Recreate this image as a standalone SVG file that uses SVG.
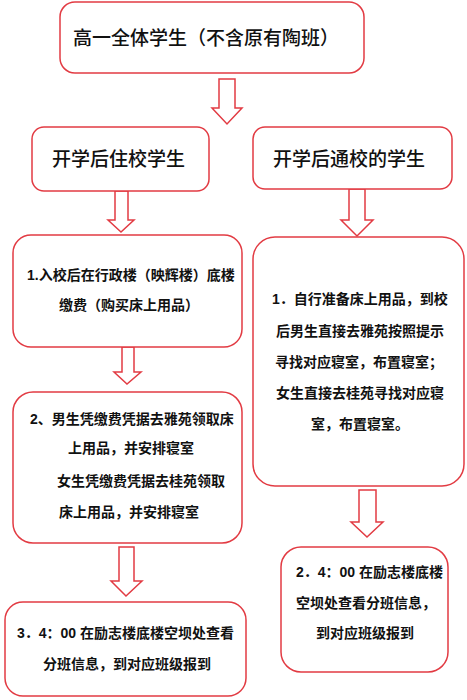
<svg xmlns="http://www.w3.org/2000/svg" width="467" height="700" viewBox="0 0 467 700">
<style>
.box{fill:#fff;stroke:#e23b43;stroke-width:1.5}
.arr{fill:#fff;stroke:#e23b43;stroke-width:1.5;stroke-linejoin:miter}
.t{font-family:"Liberation Sans","Noto Sans CJK SC",sans-serif;fill:#111}
.big{font-size:19px;font-weight:500}
.sm{font-size:14px;font-weight:bold}
</style>
<rect width="467" height="700" fill="#fff"/>
<g id="connectors">
<polygon class="arr" points="219,79 235,79 235,108 242,108 227,124 212,108 219,108"/>
<polygon class="arr" points="115,191 128,191 128,220 134,220 121,232 108,220 115,220"/>
<polygon class="arr" points="349,189 365,189 365,220 373,220 357,236 341,220 349,220"/>
<polygon class="arr" points="122,347 134,347 134,372 141,372 127,384 114,372 122,372"/>
<polygon class="arr" points="119,547 134,547 134,581 142,581 126,596 111,581 119,581"/>
<polygon class="arr" points="359,490 376,490 376,522 383,522 367,537 351,522 359,522"/>
</g>
<g id="n-top">
<rect class="box" x="60" y="2" width="304" height="71" rx="15"/>
<text class="t big" x="73" y="45">高一全体学生（不含原有陶班）</text>
</g>
<g id="n-board">
<rect class="box" x="32" y="127" width="177" height="64" rx="12"/>
<text class="t big" x="52" y="166">开学后住校学生</text>
</g>
<g id="n-day">
<rect class="box" x="253" y="127" width="199" height="62" rx="12"/>
<text class="t big" x="273" y="166">开学后通校的学生</text>
</g>
<g id="n-b1">
<rect class="box" x="13" y="235" width="229" height="112" rx="18"/>
<text class="t sm" x="27" y="280">1.入校后在行政楼（映辉楼）底楼</text>
<text class="t sm" x="59" y="310">缴费（购买床上用品）</text>
</g>
<g id="n-b2">
<rect class="box" x="13" y="392" width="229" height="151" rx="20"/>
<text class="t sm" x="30" y="424">2、男生凭缴费凭据去雅苑领取床</text>
<text class="t sm" x="68" y="453">上用品，并安排寝室</text>
<text class="t sm" x="57" y="486">女生凭缴费凭据去桂苑领取</text>
<text class="t sm" x="59" y="517">床上用品，并安排寝室</text>
</g>
<g id="n-b3">
<rect class="box" x="5" y="602" width="241" height="94" rx="18"/>
<text class="t sm" x="17" y="638">3．4：00 在励志楼底楼空坝处查看</text>
<text class="t sm" x="43" y="669">分班信息，到对应班级报到</text>
</g>
<g id="n-d1">
<rect class="box" x="253" y="237" width="211" height="249" rx="22"/>
<text class="t sm" x="272" y="304">1．自行准备床上用品，到校</text>
<text class="t sm" x="276" y="336">后男生直接去雅苑按照提示</text>
<text class="t sm" x="275" y="367">寻找对应寝室，布置寝室；</text>
<text class="t sm" x="276" y="398">女生直接去桂苑寻找对应寝</text>
<text class="t sm" x="311" y="429">室，布置寝室。</text>
</g>
<g id="n-d2">
<rect class="box" x="281" y="547" width="167" height="125" rx="20"/>
<text class="t sm" x="296" y="577">2．4：00 在励志楼底楼</text>
<text class="t sm" x="296" y="608">空坝处查看分班信息，</text>
<text class="t sm" x="316" y="638">到对应班级报到</text>
</g>
</svg>
